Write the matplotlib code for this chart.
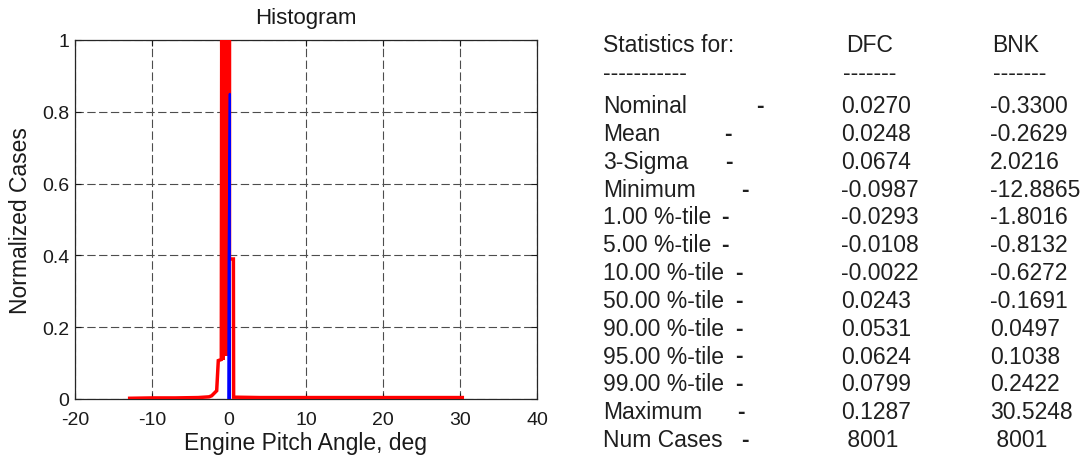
import matplotlib.pyplot as plt
from matplotlib.ticker import FuncFormatter

plt.rcParams['font.family'] = ['Liberation Sans', 'DejaVu Sans']
plt.rcParams['axes.unicode_minus'] = False
plt.rcParams['lines.scale_dashes'] = False

# BNK histogram (bin centres, normalized counts)
bnk_x = [-12.9, -10.0, -7.0, -4.0, -2.6, -2.25, -1.6, -1.39, -1.0,
         -0.95, -0.75, -0.55, -0.35, -0.15, 0.065, 0.065, 0.57, 0.6,
         1.0, 4.0, 10.0, 20.0, 30.3]
bnk_y = [0.002, 0.003, 0.003, 0.004, 0.006, 0.009, 0.023, 0.107, 0.11,
         1.0, 0.11, 1.0, 0.12, 1.0, 1.0, 0.39, 0.39, 0.005,
         0.005, 0.004, 0.004, 0.004, 0.004]

# DFC histogram
dfc_x = [-0.0987, -0.05, 0.10, 0.1287]
dfc_y = [0.0, 0.39, 0.85, 0.0]

x_ticks = [-20, -10, 0, 10, 20, 30, 40]
y_ticks = [0, 0.2, 0.4, 0.6, 0.8, 1.0]

# statistics table
stat_labels = ['Nominal', 'Mean', '3-Sigma', 'Minimum', '1.00 %-tile',
               '5.00 %-tile', '10.00 %-tile', '50.00 %-tile', '90.00 %-tile',
               '95.00 %-tile', '99.00 %-tile', 'Maximum', 'Num Cases']
dfc_vals = ['0.0270', '0.0248', '0.0674', '-0.0987', '-0.0293', '-0.0108',
            '-0.0022', '0.0243', '0.0531', '0.0624', '0.0799', '0.1287', ' 8001']
bnk_vals = ['-0.3300', '-0.2629', '2.0216', '-12.8865', '-1.8016', '-0.8132',
            '-0.6272', '-0.1691', '0.0497', '0.1038', '0.2422', '30.5248', ' 8001']
# x pixel position of the separator sign in each row
eq_x = [760, 728, 729, 745, 725, 725, 739, 739, 739, 739, 739, 741, 745]

W, H = 1083, 460
fig = plt.figure(figsize=(W / 100, H / 100), dpi=100)
ax = fig.add_axes([75 / W, 60 / H, 462 / W, 359 / H])

ax.plot(dfc_x, dfc_y, color='blue', lw=1.5, zorder=4)
ax.plot(bnk_x, bnk_y, color='red', lw=2.5, zorder=3, solid_joinstyle='miter')

ax.set_xlim(-20, 40)
ax.set_ylim(0, 1)
ax.set_xticks(x_ticks)
ax.set_yticks(y_ticks)
ax.yaxis.set_major_formatter(FuncFormatter(lambda v, p: f'{v:g}'))
ax.grid(True, color='0.3', lw=0.8, linestyle=(0, (6, 2.5)))
ax.set_axisbelow(True)
ax.tick_params(direction='in', length=4, width=0.8, top=True, right=True,
               labelsize=14, colors='0.1')
ax.tick_params(axis='x', pad=8.5)
ax.tick_params(axis='y', pad=4)
for s in ax.spines.values():
    s.set_linewidth(0.9)
    s.set_color('0.15')

ax.set_title('Histogram', fontsize=16, pad=12, color='0.1')
ax.set_xlabel('Engine Pitch Angle, deg', fontsize=16.5, labelpad=2, color='0.1')
ax.set_ylabel('Normalized Cases', fontsize=16.5, labelpad=7, color='0.1')


def put(x, y, s, ha='left', weight='normal'):
    fig.text(x / W, 1 - y / H, s, fontsize=16.5, color='0.12',
             va='baseline', ha=ha, fontweight=weight)


put(603, 51.7, 'Statistics for:')
put(846, 51.7, 'DFC')
put(992, 51.7, 'BNK')
put(603, 79.8, '-' * 11)
put(843, 79.8, '-' * 7)
put(993, 79.8, '-' * 7)
for i, lab in enumerate(stat_labels):
    yb = 113.3 + 27.8 * i
    put(603, yb, lab)
    put(eq_x[i], yb, '-', ha='center', weight='bold')
    put(841, yb, dfc_vals[i])
    put(990, yb, bnk_vals[i])

fig.savefig('out.png', dpi=100)
